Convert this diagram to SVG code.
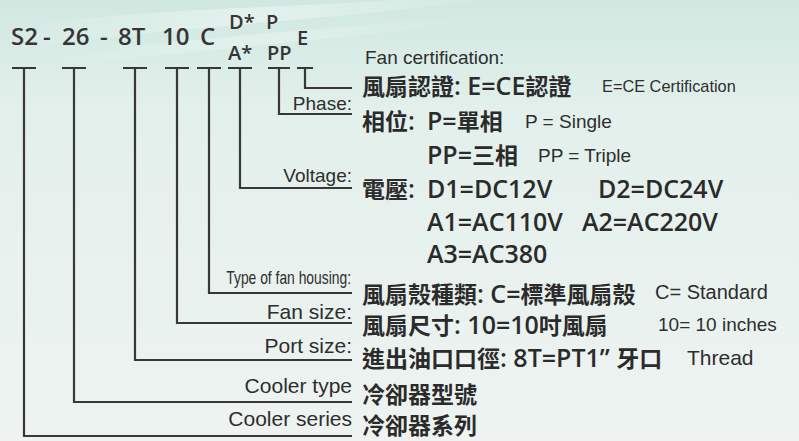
<svg xmlns="http://www.w3.org/2000/svg" width="799" height="441" viewBox="0 0 799 441">
<defs>
<linearGradient id="bg" x1="0" y1="0" x2="0" y2="1">
<stop offset="0" stop-color="#d0e8e1"/>
<stop offset="0.25" stop-color="#e3f0ec"/>
<stop offset="1" stop-color="#eef3f1"/>
</linearGradient>
<linearGradient id="streak" x1="0" y1="0" x2="1" y2="0">
<stop offset="0" stop-color="#ffffff" stop-opacity="0"/>
<stop offset="0.5" stop-color="#ffffff" stop-opacity="0.55"/>
<stop offset="1" stop-color="#ffffff" stop-opacity="0"/>
</linearGradient>
<style>
.hd{font-family:"Open Sans","Liberation Sans",sans-serif;font-weight:600;fill:#353535}
.big{font-family:"Open Sans","Noto Sans CJK TC",sans-serif;font-weight:600;font-size:25px;fill:#2b2b2b}
.cj{font-family:"Noto Sans CJK TC",sans-serif;font-weight:700;font-size:23px}
.en{font-family:"Liberation Sans",Arial,sans-serif;fill:#2e2e2e}
.ln{fill:none;stroke:#383838;stroke-width:2.2}
</style>
</defs>
<rect width="799" height="441" fill="url(#bg)"/>
<path d="M0,30 C150,5 300,10 460,-5 L520,-5 C350,20 180,25 0,50 Z" fill="url(#streak)" opacity="0.7"/>
<path d="M40,60 C200,35 330,30 470,15 L480,22 C330,40 200,50 40,68 Z" fill="url(#streak)" opacity="0.5"/>

<g id="code">
<text class="hd" font-size="24" x="11" y="45">S2</text>
<text class="hd" font-size="24" x="43" y="45">-</text>
<text class="hd" font-size="24" x="62" y="45">26</text>
<text class="hd" font-size="24" x="100" y="45">-</text>
<text class="hd" font-size="24" x="118" y="45">8T</text>
<text class="hd" font-size="24" x="162" y="45">10</text>
<text class="hd" font-size="24" x="200" y="45">C</text>
<text class="hd" font-size="20" x="229" y="29">D*</text>
<text class="hd" font-size="20" x="266" y="29">P</text>
<text class="hd" font-size="20" x="228" y="60">A*</text>
<text class="hd" font-size="20" x="267" y="60">PP</text>
<text class="hd" font-size="20" x="297" y="45">E</text>
</g>

<g id="connectors">
<path class="ln" d="M12,68 H36 M24,68 V436 H352"/>
<path class="ln" d="M62,68 H86 M74,68 V402 H352"/>
<path class="ln" d="M123,68 H147 M135,68 V360 H352"/>
<path class="ln" d="M165,68 H189 M177,68 V323 H352"/>
<path class="ln" d="M197,68 H221 M209,68 V293 H352"/>
<path class="ln" d="M228,68 H252 M240,68 V188 H352"/>
<path class="ln" d="M268,68 H290 M279,68 V114 H352"/>
<path class="ln" d="M297,68 H313 M305,68 V88 H352"/>
</g>

<g id="certification">
<text class="en" font-size="19" x="365" y="64">Fan certification:</text>
<text class="big" x="362" y="95"><tspan class="cj">風扇認證</tspan>: E=CE<tspan class="cj">認證</tspan></text>
<text class="en" font-size="17" transform="translate(602,92) scale(0.96,1)">E=CE Certification</text>
</g>

<g id="phase">
<text class="en" font-size="19" x="352" y="110" text-anchor="end">Phase:</text>
<text class="big" x="362" y="130"><tspan class="cj">相位</tspan>:<tspan x="427">P=</tspan><tspan class="cj">單相</tspan></text>
<text class="en" font-size="19" x="525" y="128">P = Single</text>
<text class="big" x="427" y="164">PP=<tspan class="cj">三相</tspan></text>
<text class="en" font-size="19" x="538" y="162">PP = Triple</text>
</g>

<g id="voltage">
<text class="en" font-size="19" x="352" y="182" text-anchor="end">Voltage:</text>
<text class="big" x="362" y="198"><tspan class="cj">電壓</tspan>:<tspan x="427">D1=DC12V</tspan><tspan x="598">D2=DC24V</tspan></text>
<text class="big" x="427" y="231">A1=AC110V<tspan x="582">A2=AC220V</tspan></text>
<text class="big" x="427" y="263">A3=AC380</text>
</g>

<g id="housing">
<text class="en" font-size="18" text-anchor="end" transform="translate(351,284) scale(0.77,1)">Type of fan housing:</text>
<text class="big" x="362" y="303"><tspan class="cj">風扇殼種類</tspan>: C=<tspan class="cj">標準風扇殼</tspan></text>
<text class="en" font-size="20" x="655" y="299">C= Standard</text>
</g>

<g id="fansize">
<text class="en" font-size="21" x="352" y="319" text-anchor="end">Fan size:</text>
<text class="big" x="362" y="334"><tspan class="cj">風扇尺寸</tspan>: 10=10<tspan class="cj">吋風扇</tspan></text>
<text class="en" font-size="19" x="658" y="331">10=  10 inches</text>
</g>

<g id="portsize">
<text class="en" font-size="21" x="352" y="353" text-anchor="end">Port size:</text>
<text class="big" x="362" y="367"><tspan class="cj">進出油口口徑</tspan>: 8T=PT1” <tspan class="cj">牙口</tspan></text>
<text class="en" font-size="21" x="687" y="365">Thread</text>
</g>

<g id="coolertype">
<text class="en" font-size="21" x="352" y="393" text-anchor="end">Cooler type</text>
<text class="big" x="362" y="403"><tspan class="cj">冷卻器型號</tspan></text>
</g>

<g id="coolerseries">
<text class="en" font-size="21" x="352" y="426" text-anchor="end">Cooler series</text>
<text class="big" x="362" y="434"><tspan class="cj">冷卻器系列</tspan></text>
</g>
</svg>
